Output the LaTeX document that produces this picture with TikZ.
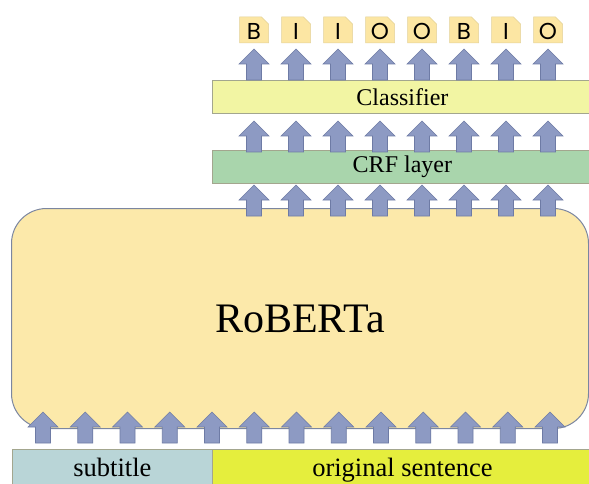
\documentclass[tikz,border=0pt]{standalone}
\usepackage{fontspec}
\setmainfont{Liberation Serif}
\newfontfamily\tagfont{Poppins}
\usetikzlibrary{positioning}

\definecolor{robfill}{HTML}{FCE9AA}
\definecolor{robline}{HTML}{7B86A0}
\definecolor{clsfill}{HTML}{F2F5A3}
\definecolor{crffill}{HTML}{A9D5AC}
\definecolor{subfill}{HTML}{B9D5D7}
\definecolor{origfill}{HTML}{E5EE3D}
\definecolor{barline}{HTML}{A3A68E}
\definecolor{arrfill}{HTML}{8D9AC3}
\definecolor{arrline}{HTML}{6E7BA5}
\definecolor{tagfill}{HTML}{FCE6A3}
\definecolor{tagline}{HTML}{E3D29A}

\begin{document}
\begin{tikzpicture}[x=1pt, y=-1pt,
	bar/.style={draw=barline, line width=0.8pt, anchor=north west, inner sep=0pt, minimum height=33pt},
	inbar/.style={bar, minimum height=42pt, text height=19pt, text depth=6pt, font=\fontsize{26.5}{26.5}\selectfont},
	tagbox/.style={inner sep=0pt, minimum width=29pt, minimum height=26pt, font=\tagfont\fontsize{23}{23}\selectfont},
	uparr/.pic={\filldraw[fill=arrfill, draw=arrline, line width=0.6pt] (-7.5,0) -- (-7.5,-16) -- (-15,-16) -- (0,-31) -- (15,-16) -- (7.5,-16) -- (7.5,0) -- cycle;}]
	\clip (0,0) rectangle (589,484);
	\fill[white] (0,0) rectangle (589,484);

	% encoder
	\node[draw=robline, fill=robfill, line width=1pt, rounded corners=35pt, anchor=north west, minimum width=577pt, minimum height=220pt, font=\fontsize{42}{42}\selectfont] (roberta) at (11,208) {RoBERTa};

	% input segments
	\node[inbar, fill=subfill, minimum width=200pt] (subtitle) at (12,449) {subtitle};
	\node[inbar, fill=origfill, minimum width=380pt] (orig) at (212,449) {original sentence};

	% upper layers
	\node[bar, fill=crffill, minimum width=380pt, font=\fontsize{24}{24}\selectfont] (crf) at (212,150) {CRF layer};
	\node[bar, fill=clsfill, minimum width=380pt, font=\fontsize{24}{24}\selectfont] (classifier) at (212,80) {Classifier};

	% arrows into the encoder
	\foreach \i in {0,...,12}
		\pic at (43+42.25*\i, 443) {uparr};

	% arrows between layers
	\foreach \i in {0,...,7} {
		\pic at (254+42*\i, 216) {uparr};
		\pic at (254+42*\i, 152) {uparr};
		\pic at (254+42*\i, 80) {uparr};
	}

	% output tags
	\foreach \t [count=\i from 0] in {B,I,I,O,O,B,I,O} {
		\filldraw[fill=tagfill, draw=tagline, line width=0.5pt] (239.5+42*\i,43) -- (239.5+42*\i,17) -- (261.5+42*\i,17) -- (268.5+42*\i,24) -- (268.5+42*\i,43) -- cycle;
		\node[tagbox] (tag\i) at (254+42*\i,31) {\t};
	}
\end{tikzpicture}
\end{document}
